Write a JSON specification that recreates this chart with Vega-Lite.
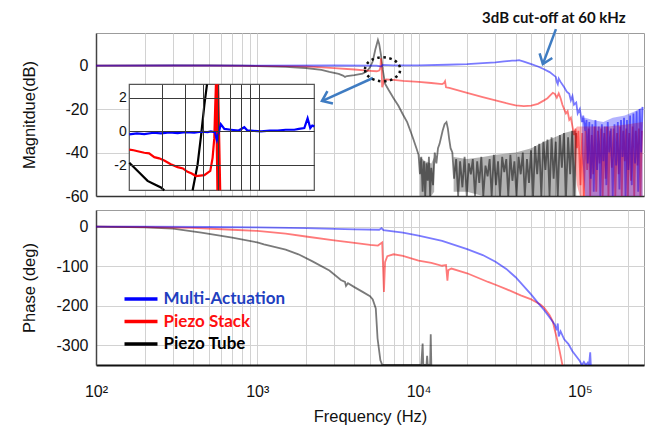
{
 "$schema": "https://vega.github.io/schema/vega-lite/v6.json",
 "background": "white",
 "padding": {"left": 20, "top": 10, "right": 8, "bottom": 0},
 "config": {
  "font": "Liberation Sans",
  "view": {"stroke": "#9c9c9c", "strokeWidth": 1},
  "axis": {"labelFont": "Liberation Sans", "labelFontSize": 16, "labelColor": "#111", "titleFont": "Liberation Sans", "titleFontSize": 16.5, "titleFontWeight": "normal", "titleColor": "#111", "gridColor": "#d2d2d2", "gridWidth": 1, "domainColor": "#444", "domainWidth": 1.5, "ticks": false, "labelFlush": false, "labelOverlap": false}
 },
 "datasets": {
  "bands": [
   {"s":"Piezo Tube","p":1,"f":10200,"hi":-42,"lo":-60},{"s":"Piezo Tube","p":1,"f":11000,"hi":-44,"lo":-60},{"s":"Piezo Tube","p":1,"f":12000,"hi":-45,"lo":-60},{"s":"Piezo Tube","p":1,"f":12500,"hi":-42,"lo":-58},
   {"s":"Piezo Tube","p":2,"f":16500,"hi":-42,"lo":-58},{"s":"Piezo Tube","p":2,"f":20000,"hi":-43,"lo":-58},{"s":"Piezo Tube","p":2,"f":25000,"hi":-42,"lo":-60},{"s":"Piezo Tube","p":2,"f":30000,"hi":-41,"lo":-60},{"s":"Piezo Tube","p":2,"f":40000,"hi":-40,"lo":-60},{"s":"Piezo Tube","p":2,"f":50000,"hi":-38,"lo":-60},{"s":"Piezo Tube","p":2,"f":60000,"hi":-35,"lo":-60},{"s":"Piezo Tube","p":2,"f":70000,"hi":-33,"lo":-60},{"s":"Piezo Tube","p":2,"f":80000,"hi":-31,"lo":-60},{"s":"Piezo Tube","p":2,"f":90000,"hi":-30,"lo":-60},{"s":"Piezo Tube","p":2,"f":95000,"hi":-30,"lo":-60},
   {"s":"Piezo Stack","p":1,"f":92000,"hi":-30,"lo":-40},{"s":"Piezo Stack","p":1,"f":96000,"hi":-28,"lo":-55},{"s":"Piezo Stack","p":1,"f":100000,"hi":-28,"lo":-60},{"s":"Piezo Stack","p":1,"f":150000,"hi":-28,"lo":-60},{"s":"Piezo Stack","p":1,"f":200000,"hi":-27,"lo":-60},{"s":"Piezo Stack","p":1,"f":245000,"hi":-26,"lo":-60},
   {"s":"Multi-Actuation","p":1,"f":103000,"hi":-24,"lo":-40},{"s":"Multi-Actuation","p":1,"f":108000,"hi":-24,"lo":-60},{"s":"Multi-Actuation","p":1,"f":120000,"hi":-25,"lo":-60},{"s":"Multi-Actuation","p":1,"f":140000,"hi":-26,"lo":-60},{"s":"Multi-Actuation","p":1,"f":160000,"hi":-24,"lo":-60},{"s":"Multi-Actuation","p":1,"f":190000,"hi":-23,"lo":-60},{"s":"Multi-Actuation","p":1,"f":220000,"hi":-21,"lo":-60},{"s":"Multi-Actuation","p":1,"f":245000,"hi":-19,"lo":-60}
  ],
  "mag": [
   {"s":"Piezo Tube","f":100,"v":0},{"s":"Piezo Tube","f":300,"v":0.1},{"s":"Piezo Tube","f":500,"v":0.1},{"s":"Piezo Tube","f":800,"v":0},{"s":"Piezo Tube","f":1000,"v":-0.2},{"s":"Piezo Tube","f":1500,"v":-0.6},{"s":"Piezo Tube","f":2000,"v":-1.1},{"s":"Piezo Tube","f":2500,"v":-2},{"s":"Piezo Tube","f":2800,"v":-2.9},{"s":"Piezo Tube","f":3200,"v":-3.8},{"s":"Piezo Tube","f":3400,"v":-4.6},{"s":"Piezo Tube","f":3500,"v":-5.2},{"s":"Piezo Tube","f":3600,"v":-4.8},{"s":"Piezo Tube","f":4000,"v":-4.4},{"s":"Piezo Tube","f":4500,"v":-3.7},{"s":"Piezo Tube","f":4800,"v":-2.5},{"s":"Piezo Tube","f":5000,"v":-0.8},{"s":"Piezo Tube","f":5200,"v":2},{"s":"Piezo Tube","f":5400,"v":7.5},{"s":"Piezo Tube","f":5600,"v":11.8},{"s":"Piezo Tube","f":5700,"v":10},{"s":"Piezo Tube","f":5850,"v":4.8},{"s":"Piezo Tube","f":6000,"v":-2},{"s":"Piezo Tube","f":6200,"v":-8.3},{"s":"Piezo Tube","f":6500,"v":-11},{"s":"Piezo Tube","f":7000,"v":-15},{"s":"Piezo Tube","f":7500,"v":-18.5},{"s":"Piezo Tube","f":8000,"v":-22.5},{"s":"Piezo Tube","f":8500,"v":-26},{"s":"Piezo Tube","f":9000,"v":-31},{"s":"Piezo Tube","f":9300,"v":-34},{"s":"Piezo Tube","f":9700,"v":-38},{"s":"Piezo Tube","f":10000,"v":-41},
   {"s":"Piezo Tube","f":10200,"v":-50},{"s":"Piezo Tube","f":10400,"v":-42},{"s":"Piezo Tube","f":10600,"v":-58},{"s":"Piezo Tube","f":10800,"v":-44},{"s":"Piezo Tube","f":11000,"v":-60},{"s":"Piezo Tube","f":11200,"v":-45},{"s":"Piezo Tube","f":11400,"v":-53},{"s":"Piezo Tube","f":11600,"v":-42},{"s":"Piezo Tube","f":11800,"v":-60},{"s":"Piezo Tube","f":12000,"v":-47},{"s":"Piezo Tube","f":12300,"v":-55},{"s":"Piezo Tube","f":12600,"v":-40},{"s":"Piezo Tube","f":12900,"v":-45},{"s":"Piezo Tube","f":13200,"v":-38},{"s":"Piezo Tube","f":13500,"v":-36},{"s":"Piezo Tube","f":13800,"v":-33},{"s":"Piezo Tube","f":14100,"v":-30},{"s":"Piezo Tube","f":14500,"v":-27},{"s":"Piezo Tube","f":14900,"v":-26},{"s":"Piezo Tube","f":15200,"v":-29},{"s":"Piezo Tube","f":15500,"v":-34},{"s":"Piezo Tube","f":15800,"v":-38},{"s":"Piezo Tube","f":16200,"v":-40},
   {"s":"Piezo Tube","f":16600,"v":-52},{"s":"Piezo Tube","f":17100,"v":-43},{"s":"Piezo Tube","f":17600,"v":-60},{"s":"Piezo Tube","f":18100,"v":-44},{"s":"Piezo Tube","f":18700,"v":-56},{"s":"Piezo Tube","f":19300,"v":-42},{"s":"Piezo Tube","f":19900,"v":-60},{"s":"Piezo Tube","f":20500,"v":-45},{"s":"Piezo Tube","f":21100,"v":-50},{"s":"Piezo Tube","f":21700,"v":-43},{"s":"Piezo Tube","f":22400,"v":-60},{"s":"Piezo Tube","f":23100,"v":-44},{"s":"Piezo Tube","f":23800,"v":-54},{"s":"Piezo Tube","f":24500,"v":-42},{"s":"Piezo Tube","f":25200,"v":-60},{"s":"Piezo Tube","f":26000,"v":-46},{"s":"Piezo Tube","f":26800,"v":-51},{"s":"Piezo Tube","f":27600,"v":-43},{"s":"Piezo Tube","f":28400,"v":-60},{"s":"Piezo Tube","f":29300,"v":-41},{"s":"Piezo Tube","f":30200,"v":-55},{"s":"Piezo Tube","f":31100,"v":-44},{"s":"Piezo Tube","f":32000,"v":-60},{"s":"Piezo Tube","f":33000,"v":-42},{"s":"Piezo Tube","f":34000,"v":-49},{"s":"Piezo Tube","f":35000,"v":-43},{"s":"Piezo Tube","f":36000,"v":-60},{"s":"Piezo Tube","f":37100,"v":-41},{"s":"Piezo Tube","f":38200,"v":-53},{"s":"Piezo Tube","f":39300,"v":-44},{"s":"Piezo Tube","f":40500,"v":-60},{"s":"Piezo Tube","f":41700,"v":-42},{"s":"Piezo Tube","f":43000,"v":-50},{"s":"Piezo Tube","f":44300,"v":-40},{"s":"Piezo Tube","f":45600,"v":-60},{"s":"Piezo Tube","f":47000,"v":-43},{"s":"Piezo Tube","f":48400,"v":-54},{"s":"Piezo Tube","f":49800,"v":-39},{"s":"Piezo Tube","f":51300,"v":-60},{"s":"Piezo Tube","f":52800,"v":-37},{"s":"Piezo Tube","f":54400,"v":-50},{"s":"Piezo Tube","f":56000,"v":-36},{"s":"Piezo Tube","f":57700,"v":-60},{"s":"Piezo Tube","f":59400,"v":-35},{"s":"Piezo Tube","f":61200,"v":-48},{"s":"Piezo Tube","f":63000,"v":-34},{"s":"Piezo Tube","f":64900,"v":-60},{"s":"Piezo Tube","f":66800,"v":-33},{"s":"Piezo Tube","f":68800,"v":-52},{"s":"Piezo Tube","f":70900,"v":-35},{"s":"Piezo Tube","f":73000,"v":-60},{"s":"Piezo Tube","f":75200,"v":-32},{"s":"Piezo Tube","f":77400,"v":-47},{"s":"Piezo Tube","f":79700,"v":-31},{"s":"Piezo Tube","f":82100,"v":-60},{"s":"Piezo Tube","f":84600,"v":-33},{"s":"Piezo Tube","f":87100,"v":-50},{"s":"Piezo Tube","f":89700,"v":-30},{"s":"Piezo Tube","f":92400,"v":-60},{"s":"Piezo Tube","f":95000,"v":-31},
   {"s":"Piezo Stack","f":100,"v":0},{"s":"Piezo Stack","f":500,"v":0},{"s":"Piezo Stack","f":1000,"v":-0.1},{"s":"Piezo Stack","f":1500,"v":-0.2},{"s":"Piezo Stack","f":2000,"v":-0.4},{"s":"Piezo Stack","f":3000,"v":-1.2},{"s":"Piezo Stack","f":4000,"v":-1.8},{"s":"Piezo Stack","f":5000,"v":-2.4},{"s":"Piezo Stack","f":5500,"v":-2.6},{"s":"Piezo Stack","f":5700,"v":-2.3},{"s":"Piezo Stack","f":5800,"v":-1},{"s":"Piezo Stack","f":5850,"v":3.4},{"s":"Piezo Stack","f":5900,"v":-1},{"s":"Piezo Stack","f":5950,"v":-10},{"s":"Piezo Stack","f":6100,"v":-6.8},{"s":"Piezo Stack","f":6300,"v":-6.4},{"s":"Piezo Stack","f":7000,"v":-6.6},{"s":"Piezo Stack","f":8000,"v":-7},{"s":"Piezo Stack","f":10000,"v":-7.5},{"s":"Piezo Stack","f":12000,"v":-8},{"s":"Piezo Stack","f":14000,"v":-8.5},{"s":"Piezo Stack","f":14400,"v":-8},{"s":"Piezo Stack","f":14600,"v":-7.2},{"s":"Piezo Stack","f":14800,"v":-10},{"s":"Piezo Stack","f":15500,"v":-10.3},{"s":"Piezo Stack","f":20000,"v":-12.5},{"s":"Piezo Stack","f":25000,"v":-14.5},{"s":"Piezo Stack","f":30000,"v":-16},{"s":"Piezo Stack","f":35000,"v":-17.3},{"s":"Piezo Stack","f":40000,"v":-18.3},{"s":"Piezo Stack","f":45000,"v":-18.6},{"s":"Piezo Stack","f":50000,"v":-18.4},{"s":"Piezo Stack","f":55000,"v":-17.6},{"s":"Piezo Stack","f":60000,"v":-16},{"s":"Piezo Stack","f":63000,"v":-15},{"s":"Piezo Stack","f":66000,"v":-13.5},{"s":"Piezo Stack","f":68000,"v":-12.5},{"s":"Piezo Stack","f":70000,"v":-13},{"s":"Piezo Stack","f":72000,"v":-14.8},{"s":"Piezo Stack","f":74000,"v":-12.8},{"s":"Piezo Stack","f":76000,"v":-15},{"s":"Piezo Stack","f":78000,"v":-18},{"s":"Piezo Stack","f":80000,"v":-20},{"s":"Piezo Stack","f":82000,"v":-22},{"s":"Piezo Stack","f":84000,"v":-21},{"s":"Piezo Stack","f":86000,"v":-25},{"s":"Piezo Stack","f":88000,"v":-24},{"s":"Piezo Stack","f":90000,"v":-28},{"s":"Piezo Stack","f":92000,"v":-32},{"s":"Piezo Stack","f":94000,"v":-29},{"s":"Piezo Stack","f":96000,"v":-38},{"s":"Piezo Stack","f":98000,"v":-30},
   {"s":"Piezo Stack","f":101000,"v":-55},{"s":"Piezo Stack","f":103500,"v":-31},{"s":"Piezo Stack","f":106000,"v":-60},{"s":"Piezo Stack","f":108500,"v":-30},{"s":"Piezo Stack","f":111000,"v":-48},{"s":"Piezo Stack","f":113500,"v":-29},{"s":"Piezo Stack","f":116000,"v":-60},{"s":"Piezo Stack","f":118500,"v":-32},{"s":"Piezo Stack","f":121000,"v":-50},{"s":"Piezo Stack","f":123500,"v":-28},{"s":"Piezo Stack","f":126500,"v":-58},{"s":"Piezo Stack","f":129500,"v":-30},{"s":"Piezo Stack","f":132500,"v":-45},{"s":"Piezo Stack","f":135500,"v":-29},{"s":"Piezo Stack","f":138500,"v":-60},{"s":"Piezo Stack","f":141500,"v":-31},{"s":"Piezo Stack","f":144500,"v":-52},{"s":"Piezo Stack","f":147500,"v":-28},{"s":"Piezo Stack","f":150500,"v":-60},{"s":"Piezo Stack","f":154000,"v":-30},{"s":"Piezo Stack","f":158000,"v":-47},{"s":"Piezo Stack","f":162000,"v":-29},{"s":"Piezo Stack","f":166000,"v":-60},{"s":"Piezo Stack","f":170000,"v":-31},{"s":"Piezo Stack","f":174000,"v":-50},{"s":"Piezo Stack","f":178000,"v":-28},{"s":"Piezo Stack","f":182000,"v":-60},{"s":"Piezo Stack","f":186000,"v":-30},{"s":"Piezo Stack","f":190000,"v":-44},{"s":"Piezo Stack","f":194000,"v":-29},{"s":"Piezo Stack","f":198000,"v":-60},{"s":"Piezo Stack","f":202500,"v":-31},{"s":"Piezo Stack","f":207500,"v":-53},{"s":"Piezo Stack","f":212500,"v":-28},{"s":"Piezo Stack","f":217500,"v":-60},{"s":"Piezo Stack","f":222500,"v":-30},{"s":"Piezo Stack","f":227500,"v":-46},{"s":"Piezo Stack","f":232500,"v":-29},{"s":"Piezo Stack","f":237500,"v":-60},{"s":"Piezo Stack","f":242500,"v":-30},
   {"s":"Multi-Actuation","f":100,"v":0},{"s":"Multi-Actuation","f":300,"v":0.05},{"s":"Multi-Actuation","f":1000,"v":0},{"s":"Multi-Actuation","f":3000,"v":0.05},{"s":"Multi-Actuation","f":5500,"v":0},{"s":"Multi-Actuation","f":5850,"v":-0.4},{"s":"Multi-Actuation","f":6000,"v":0.3},{"s":"Multi-Actuation","f":7000,"v":0.1},{"s":"Multi-Actuation","f":10000,"v":0.1},{"s":"Multi-Actuation","f":15000,"v":0.4},{"s":"Multi-Actuation","f":20000,"v":0.7},{"s":"Multi-Actuation","f":25000,"v":1.1},{"s":"Multi-Actuation","f":30000,"v":1.5},{"s":"Multi-Actuation","f":34000,"v":1.9},{"s":"Multi-Actuation","f":38000,"v":2.3},{"s":"Multi-Actuation","f":40000,"v":2.3},{"s":"Multi-Actuation","f":42000,"v":2.5},{"s":"Multi-Actuation","f":45000,"v":1.8},{"s":"Multi-Actuation","f":50000,"v":0.7},{"s":"Multi-Actuation","f":55000,"v":-0.4},{"s":"Multi-Actuation","f":60000,"v":-1.7},{"s":"Multi-Actuation","f":65000,"v":-3},{"s":"Multi-Actuation","f":69000,"v":-4.5},{"s":"Multi-Actuation","f":71000,"v":-5.2},{"s":"Multi-Actuation","f":72000,"v":-7.5},{"s":"Multi-Actuation","f":73000,"v":-8.5},{"s":"Multi-Actuation","f":74000,"v":-6},{"s":"Multi-Actuation","f":76000,"v":-7.5},{"s":"Multi-Actuation","f":80000,"v":-10},{"s":"Multi-Actuation","f":83000,"v":-12},{"s":"Multi-Actuation","f":86000,"v":-13},{"s":"Multi-Actuation","f":88000,"v":-16},{"s":"Multi-Actuation","f":90000,"v":-14},{"s":"Multi-Actuation","f":92000,"v":-18},{"s":"Multi-Actuation","f":95000,"v":-17},{"s":"Multi-Actuation","f":97000,"v":-22},{"s":"Multi-Actuation","f":100000,"v":-20},{"s":"Multi-Actuation","f":103000,"v":-26},{"s":"Multi-Actuation","f":105000,"v":-23},{"s":"Multi-Actuation","f":108000,"v":-30},{"s":"Multi-Actuation","f":110000,"v":-25},
   {"s":"Multi-Actuation","f":112000,"v":-45},{"s":"Multi-Actuation","f":114500,"v":-26},{"s":"Multi-Actuation","f":117000,"v":-52},{"s":"Multi-Actuation","f":119500,"v":-27},{"s":"Multi-Actuation","f":122000,"v":-58},{"s":"Multi-Actuation","f":125000,"v":-25},{"s":"Multi-Actuation","f":128000,"v":-48},{"s":"Multi-Actuation","f":131000,"v":-28},{"s":"Multi-Actuation","f":134000,"v":-60},{"s":"Multi-Actuation","f":137000,"v":-27},{"s":"Multi-Actuation","f":140000,"v":-44},{"s":"Multi-Actuation","f":143000,"v":-28},{"s":"Multi-Actuation","f":146000,"v":-55},{"s":"Multi-Actuation","f":149000,"v":-26},{"s":"Multi-Actuation","f":152000,"v":-40},{"s":"Multi-Actuation","f":156000,"v":-29},{"s":"Multi-Actuation","f":160000,"v":-60},{"s":"Multi-Actuation","f":164000,"v":-27},{"s":"Multi-Actuation","f":168000,"v":-46},{"s":"Multi-Actuation","f":172000,"v":-26},{"s":"Multi-Actuation","f":176000,"v":-57},{"s":"Multi-Actuation","f":180000,"v":-25},{"s":"Multi-Actuation","f":184000,"v":-42},{"s":"Multi-Actuation","f":188000,"v":-24},{"s":"Multi-Actuation","f":192000,"v":-60},{"s":"Multi-Actuation","f":196000,"v":-25},{"s":"Multi-Actuation","f":200000,"v":-48},{"s":"Multi-Actuation","f":205000,"v":-23},{"s":"Multi-Actuation","f":210000,"v":-55},{"s":"Multi-Actuation","f":215000,"v":-22},{"s":"Multi-Actuation","f":220000,"v":-45},{"s":"Multi-Actuation","f":225000,"v":-21},{"s":"Multi-Actuation","f":230000,"v":-58},{"s":"Multi-Actuation","f":235000,"v":-20},{"s":"Multi-Actuation","f":240000,"v":-40},{"s":"Multi-Actuation","f":245000,"v":-19}
  ],
  "phase": [
   {"s":"Piezo Tube","f":100,"v":0},{"s":"Piezo Tube","f":200,"v":-2},{"s":"Piezo Tube","f":300,"v":-5},{"s":"Piezo Tube","f":450,"v":-15},{"s":"Piezo Tube","f":700,"v":-28},{"s":"Piezo Tube","f":1000,"v":-40},{"s":"Piezo Tube","f":1100,"v":-45},{"s":"Piezo Tube","f":1500,"v":-58},{"s":"Piezo Tube","f":1800,"v":-70},{"s":"Piezo Tube","f":2200,"v":-88},{"s":"Piezo Tube","f":2800,"v":-111},{"s":"Piezo Tube","f":3300,"v":-135},{"s":"Piezo Tube","f":3500,"v":-140},{"s":"Piezo Tube","f":3550,"v":-150},{"s":"Piezo Tube","f":3650,"v":-143},{"s":"Piezo Tube","f":4000,"v":-153},{"s":"Piezo Tube","f":4500,"v":-165},{"s":"Piezo Tube","f":5000,"v":-176},{"s":"Piezo Tube","f":5200,"v":-184},{"s":"Piezo Tube","f":5430,"v":-207},{"s":"Piezo Tube","f":5570,"v":-283},{"s":"Piezo Tube","f":5800,"v":-338},{"s":"Piezo Tube","f":5960,"v":-350},{"s":"Piezo Tube","f":10400,"v":-350},{"s":"Piezo Tube","f":10600,"v":-296},{"s":"Piezo Tube","f":10700,"v":-350},{"s":"Piezo Tube","f":11200,"v":-350},{"s":"Piezo Tube","f":11300,"v":-327},{"s":"Piezo Tube","f":11400,"v":-350},{"s":"Piezo Tube","f":11800,"v":-350},{"s":"Piezo Tube","f":11900,"v":-272},{"s":"Piezo Tube","f":12000,"v":-350},
   {"s":"Piezo Stack","f":100,"v":0},{"s":"Piezo Stack","f":200,"v":-1},{"s":"Piezo Stack","f":400,"v":-3},{"s":"Piezo Stack","f":700,"v":-8},{"s":"Piezo Stack","f":1000,"v":-11},{"s":"Piezo Stack","f":1500,"v":-18},{"s":"Piezo Stack","f":2000,"v":-25},{"s":"Piezo Stack","f":3000,"v":-35},{"s":"Piezo Stack","f":4000,"v":-41},{"s":"Piezo Stack","f":5000,"v":-46},{"s":"Piezo Stack","f":5600,"v":-48},{"s":"Piezo Stack","f":5950,"v":-40},{"s":"Piezo Stack","f":6100,"v":-165},{"s":"Piezo Stack","f":6200,"v":-90},{"s":"Piezo Stack","f":6400,"v":-75},{"s":"Piezo Stack","f":7000,"v":-70},{"s":"Piezo Stack","f":8000,"v":-74},{"s":"Piezo Stack","f":10000,"v":-86},{"s":"Piezo Stack","f":12000,"v":-92},{"s":"Piezo Stack","f":14000,"v":-99},{"s":"Piezo Stack","f":14800,"v":-97},{"s":"Piezo Stack","f":15100,"v":-137},{"s":"Piezo Stack","f":15300,"v":-110},{"s":"Piezo Stack","f":16000,"v":-106},{"s":"Piezo Stack","f":20000,"v":-118},{"s":"Piezo Stack","f":27000,"v":-140},{"s":"Piezo Stack","f":30000,"v":-147},{"s":"Piezo Stack","f":35000,"v":-158},{"s":"Piezo Stack","f":43000,"v":-174},{"s":"Piezo Stack","f":50000,"v":-184},{"s":"Piezo Stack","f":57000,"v":-197},{"s":"Piezo Stack","f":60000,"v":-205},{"s":"Piezo Stack","f":65000,"v":-224},{"s":"Piezo Stack","f":68000,"v":-240},{"s":"Piezo Stack","f":70000,"v":-262},{"s":"Piezo Stack","f":72000,"v":-282},{"s":"Piezo Stack","f":75000,"v":-315},{"s":"Piezo Stack","f":78000,"v":-350},
   {"s":"Multi-Actuation","f":100,"v":0},{"s":"Multi-Actuation","f":200,"v":0},{"s":"Multi-Actuation","f":500,"v":-1},{"s":"Multi-Actuation","f":1000,"v":-2},{"s":"Multi-Actuation","f":2000,"v":-4},{"s":"Multi-Actuation","f":4000,"v":-7},{"s":"Multi-Actuation","f":5700,"v":-8},{"s":"Multi-Actuation","f":5900,"v":-4},{"s":"Multi-Actuation","f":6050,"v":-9},{"s":"Multi-Actuation","f":8000,"v":-15},{"s":"Multi-Actuation","f":10000,"v":-23},{"s":"Multi-Actuation","f":14000,"v":-36},{"s":"Multi-Actuation","f":20000,"v":-57},{"s":"Multi-Actuation","f":25000,"v":-72},{"s":"Multi-Actuation","f":30000,"v":-89},{"s":"Multi-Actuation","f":35000,"v":-107},{"s":"Multi-Actuation","f":40000,"v":-128},{"s":"Multi-Actuation","f":45000,"v":-151},{"s":"Multi-Actuation","f":50000,"v":-172},{"s":"Multi-Actuation","f":55000,"v":-193},{"s":"Multi-Actuation","f":60000,"v":-211},{"s":"Multi-Actuation","f":65000,"v":-230},{"s":"Multi-Actuation","f":70000,"v":-248},{"s":"Multi-Actuation","f":72000,"v":-262},{"s":"Multi-Actuation","f":73000,"v":-245},{"s":"Multi-Actuation","f":74000,"v":-278},{"s":"Multi-Actuation","f":76000,"v":-265},{"s":"Multi-Actuation","f":80000,"v":-285},{"s":"Multi-Actuation","f":85000,"v":-297},{"s":"Multi-Actuation","f":90000,"v":-315},{"s":"Multi-Actuation","f":95000,"v":-328},{"s":"Multi-Actuation","f":100000,"v":-340},{"s":"Multi-Actuation","f":103000,"v":-350},{"s":"Multi-Actuation","f":106000,"v":-342},{"s":"Multi-Actuation","f":109000,"v":-350},{"s":"Multi-Actuation","f":112000,"v":-344},{"s":"Multi-Actuation","f":114000,"v":-350},{"s":"Multi-Actuation","f":116000,"v":-318},{"s":"Multi-Actuation","f":117000,"v":-350}
  ],
  "inset": [
   {"s":"Piezo Tube","p":1,"f":2000,"v":-1.86},{"s":"Piezo Tube","p":1,"f":2220,"v":-2.35},{"s":"Piezo Tube","p":1,"f":2510,"v":-2.94},{"s":"Piezo Tube","p":1,"f":2730,"v":-3.14},{"s":"Piezo Tube","p":1,"f":2966,"v":-3.33},{"s":"Piezo Tube","p":1,"f":3090,"v":-3.5},
   {"s":"Piezo Tube","p":2,"f":4400,"v":-3.5},{"s":"Piezo Tube","p":2,"f":4680,"v":-1.96},{"s":"Piezo Tube","p":2,"f":4880,"v":-0.3},{"s":"Piezo Tube","p":2,"f":5090,"v":1.57},{"s":"Piezo Tube","p":2,"f":5260,"v":2.8},
   {"s":"Piezo Stack","p":1,"f":2000,"v":-1.08},{"s":"Piezo Stack","p":1,"f":2110,"v":-1.12},{"s":"Piezo Stack","p":1,"f":2220,"v":-1.18},{"s":"Piezo Stack","p":1,"f":2410,"v":-1.27},{"s":"Piezo Stack","p":1,"f":2560,"v":-1.3},{"s":"Piezo Stack","p":1,"f":2730,"v":-1.53},{"s":"Piezo Stack","p":1,"f":2900,"v":-1.6},{"s":"Piezo Stack","p":1,"f":3090,"v":-1.73},{"s":"Piezo Stack","p":1,"f":3350,"v":-1.95},{"s":"Piezo Stack","p":1,"f":3650,"v":-2.12},{"s":"Piezo Stack","p":1,"f":3900,"v":-2.2},{"s":"Piezo Stack","p":1,"f":4130,"v":-2.4},{"s":"Piezo Stack","p":1,"f":4350,"v":-2.5},{"s":"Piezo Stack","p":1,"f":4580,"v":-2.65},{"s":"Piezo Stack","p":1,"f":5090,"v":-2.6},{"s":"Piezo Stack","p":1,"f":5480,"v":-2.35},{"s":"Piezo Stack","p":1,"f":5640,"v":-1.57},{"s":"Piezo Stack","p":1,"f":5760,"v":-0.4},{"s":"Piezo Stack","p":1,"f":5830,"v":1.57},{"s":"Piezo Stack","p":1,"f":5880,"v":2.8},{"s":"Piezo Stack","p":1,"f":5990,"v":-3.5},{"s":"Piezo Stack","p":1,"f":6040,"v":2.8},{"s":"Piezo Stack","p":1,"f":6200,"v":-3.5},
   {"s":"Multi-Actuation","p":1,"f":2000,"v":-0.18},{"s":"Multi-Actuation","p":1,"f":2200,"v":-0.12},{"s":"Multi-Actuation","p":1,"f":2410,"v":-0.16},{"s":"Multi-Actuation","p":1,"f":2700,"v":-0.08},{"s":"Multi-Actuation","p":1,"f":2966,"v":-0.12},{"s":"Multi-Actuation","p":1,"f":3300,"v":-0.06},{"s":"Multi-Actuation","p":1,"f":3650,"v":-0.1},{"s":"Multi-Actuation","p":1,"f":4000,"v":-0.04},{"s":"Multi-Actuation","p":1,"f":4490,"v":-0.08},{"s":"Multi-Actuation","p":1,"f":4880,"v":-0.02},{"s":"Multi-Actuation","p":1,"f":5300,"v":-0.04},{"s":"Multi-Actuation","p":1,"f":5520,"v":0},{"s":"Multi-Actuation","p":1,"f":5800,"v":-0.05},{"s":"Multi-Actuation","p":1,"f":5950,"v":-0.5},{"s":"Multi-Actuation","p":1,"f":6080,"v":-0.1},{"s":"Multi-Actuation","p":1,"f":6250,"v":0.43},{"s":"Multi-Actuation","p":1,"f":6530,"v":0.15},{"s":"Multi-Actuation","p":1,"f":7090,"v":0.1},{"s":"Multi-Actuation","p":1,"f":7800,"v":0.05},{"s":"Multi-Actuation","p":1,"f":8370,"v":0.25},{"s":"Multi-Actuation","p":1,"f":8700,"v":0.05},{"s":"Multi-Actuation","p":1,"f":9090,"v":0.05},{"s":"Multi-Actuation","p":1,"f":10300,"v":0},{"s":"Multi-Actuation","p":1,"f":11500,"v":0.05},{"s":"Multi-Actuation","p":1,"f":12680,"v":0.05},{"s":"Multi-Actuation","p":1,"f":14000,"v":0.1},{"s":"Multi-Actuation","p":1,"f":15600,"v":0.1},{"s":"Multi-Actuation","p":1,"f":16500,"v":0.15},{"s":"Multi-Actuation","p":1,"f":17660,"v":0.2},{"s":"Multi-Actuation","p":1,"f":18400,"v":0.78},{"s":"Multi-Actuation","p":1,"f":19020,"v":0.2},{"s":"Multi-Actuation","p":1,"f":19500,"v":0.35},{"s":"Multi-Actuation","p":1,"f":20000,"v":0.3}
  ],
  "insetbox": [{"x1": 2000, "x2": 20000, "y1": -3.5, "y2": 2.8}],
  "cut": [{"f": 69000, "v": 21.9, "t": "3dB cut-off at 60 kHz"}],
  "arrows": [{"a": "cut", "f": 71100, "v": 16.8, "f2": 59000, "v2": 0.7}, {"a": "inset", "f": 5210, "v": -5.7, "f2": 2518, "v2": -16.3}],
  "ellipse": [{"f": 5985, "v": -1.7}]
 },
 "spacing": 4,
 "resolve": {"legend": {"color": "independent"}},
 "vconcat": [
  {
   "width": 548, "height": 163,
   "resolve": {"scale": {"x": "independent", "y": "independent"}},
   "layer": [
    {"layer": [
      {"data": {"name": "mag"}, "mark": {"type": "line", "clip": true, "strokeWidth": 1.8, "opacity": 0.52},
       "encoding": {
        "x": {"field": "f", "type": "quantitative", "scale": {"type": "log", "domain": [100, 250000], "nice": false}, "axis": {"title": null, "labels": false, "grid": true, "domainColor": "#333", "values": [100,200,300,400,500,600,700,800,900,1000,2000,3000,4000,5000,6000,7000,8000,9000,10000,20000,30000,40000,50000,60000,70000,80000,90000,100000,200000]}},
        "y": {"field": "v", "type": "quantitative", "scale": {"domain": [-60, 15], "nice": false, "zero": false}, "axis": {"title": "Magnitdue(dB)", "values": [-60,-40,-20,0], "labelExpr": "'' + datum.value", "labelPadding": 8, "titleX": -59, "grid": true}},
        "color": {"field": "s", "type": "nominal", "scale": {"domain": ["Multi-Actuation", "Piezo Stack", "Piezo Tube"], "range": ["#0000ff", "#ff0000", "#000000"]}, "legend": null}
       }},
      {"data": {"name": "bands"}, "mark": {"type": "area", "clip": true, "opacity": 0.3},
       "encoding": {"x": {"field": "f", "type": "quantitative"}, "y": {"field": "hi", "type": "quantitative"}, "y2": {"field": "lo"}, "detail": {"field": "p"}, "color": {"field": "s", "type": "nominal", "legend": null}}},
      {"data": {"name": "cut"}, "mark": {"type": "text", "font": "Lato", "fontWeight": "bold", "fontSize": 15, "color": "#111", "baseline": "middle", "align": "center"},
       "encoding": {"x": {"field": "f", "type": "quantitative"}, "y": {"field": "v", "type": "quantitative"}, "text": {"field": "t"}}},
      {"data": {"name": "arrows"}, "mark": {"type": "rule", "color": "#3f7cc2", "strokeWidth": 2.5},
       "encoding": {"x": {"field": "f", "type": "quantitative"}, "y": {"field": "v", "type": "quantitative"}, "x2": {"field": "f2"}, "y2": {"field": "v2"}}},
      {"data": {"name": "arrows"}, "transform": [{"filter": "datum.a == 'cut'"}], "mark": {"type": "point", "shape": "M-1,-0.75L0,0L-1,0.75", "filled": false, "stroke": "#3f7cc2", "strokeWidth": 2.5, "size": 324, "angle": 110, "opacity": 1},
       "encoding": {"x": {"field": "f2", "type": "quantitative"}, "y": {"field": "v2", "type": "quantitative"}}},
      {"data": {"name": "arrows"}, "transform": [{"filter": "datum.a == 'inset'"}], "mark": {"type": "point", "shape": "M-1,-0.75L0,0L-1,0.75", "filled": false, "stroke": "#3f7cc2", "strokeWidth": 2.5, "size": 324, "angle": 156, "opacity": 1},
       "encoding": {"x": {"field": "f2", "type": "quantitative"}, "y": {"field": "v2", "type": "quantitative"}}},
      {"data": {"name": "ellipse"}, "mark": {"type": "point", "shape": "M-1,0A1,0.68 0 1,1 1,0A1,0.68 0 1,1 -1,0Z", "filled": false, "stroke": "#111", "strokeWidth": 2.5, "strokeDash": [2.5, 3.5], "size": 1240, "opacity": 1},
       "encoding": {"x": {"field": "f", "type": "quantitative"}, "y": {"field": "v", "type": "quantitative"}}}
    ]},
    {"layer": [
      {"data": {"name": "insetbox"}, "mark": {"type": "rect", "fill": "white", "stroke": "#555", "strokeWidth": 1.2},
       "encoding": {
        "x": {"field": "x1", "type": "quantitative", "scale": {"type": "log", "domain": [2000, 20000], "range": [33.3, 218.3], "nice": false}, "axis": {"orient": "top", "offset": 0, "title": null, "labels": false, "domain": false, "ticks": false, "grid": true, "gridColor": "#3a3a3a", "gridWidth": 1, "zindex": 1, "values": [3000,4000,5000,6000,7000,8000,9000,10000]}},
        "x2": {"field": "x2"},
        "y": {"field": "y1", "type": "quantitative", "scale": {"domain": [-3.5, 2.8], "range": [157.3, 51.3], "nice": false, "zero": false}, "axis": {"orient": "left", "offset": -33.3, "title": null, "values": [-2, 0, 2], "labelExpr": "'' + datum.value", "labelFontSize": 14, "labelPadding": 3, "domain": false, "ticks": false, "grid": true, "gridColor": "#3a3a3a", "gridWidth": 1, "zindex": 1}},
        "y2": {"field": "y2"}
       }},
      {"data": {"name": "inset"}, "mark": {"type": "line", "strokeWidth": 2.2},
       "encoding": {
        "x": {"field": "f", "type": "quantitative"},
        "y": {"field": "v", "type": "quantitative"},
        "detail": {"field": "p"},
        "color": {"field": "s", "type": "nominal", "legend": null}
       }}
    ]}
   ]
  },
  {
   "width": 548, "height": 155,
   "data": {"name": "phase"},
   "mark": {"type": "line", "clip": true, "strokeWidth": 1.8, "opacity": 0.52},
   "encoding": {
    "x": {"field": "f", "type": "quantitative", "scale": {"type": "log", "domain": [100, 250000], "nice": false}, "axis": {"title": "Frequency (Hz)", "grid": true, "labelPadding": 18, "titlePadding": 9.5, "domainColor": "#111", "domainWidth": 2, "values": [100,200,300,400,500,600,700,800,900,1000,2000,3000,4000,5000,6000,7000,8000,9000,10000,20000,30000,40000,50000,60000,70000,80000,90000,100000,200000], "labelExpr": "datum.value == 100 ? '10²' : datum.value == 1000 ? '10³' : datum.value == 10000 ? '10⁴' : datum.value == 100000 ? '10⁵' : ''"}},
    "y": {"field": "v", "type": "quantitative", "scale": {"domain": [-350, 42], "nice": false, "zero": false}, "axis": {"title": "Phase (deg)", "values": [-300,-200,-100,0], "labelExpr": "'' + datum.value", "labelPadding": 8, "titleX": -59, "grid": true}},
    "color": {"field": "s", "type": "nominal", "scale": {"domain": ["Multi-Actuation", "Piezo Stack", "Piezo Tube"], "range": ["#0000ff", "#ff0000", "#000000"]},
     "legend": {"title": null, "orient": "none", "legendX": 35, "legendY": 79, "symbolType": "M-2,0H2", "symbolSize": 272, "symbolStrokeWidth": 3.5, "symbolOpacity": 1, "labelFont": "Lato", "labelFontWeight": "bold", "labelFontSize": 17, "labelOffset": 12.5, "rowPadding": 4.5, "padding": 0, "labelLimit": 300,
      "encode": {"labels": {"update": {"fill": {"signal": "datum.label == 'Multi-Actuation' ? '#1f3fbf' : datum.label == 'Piezo Stack' ? '#ff1010' : '#000000'"}}}}}}
   }
  }
 ]
}
